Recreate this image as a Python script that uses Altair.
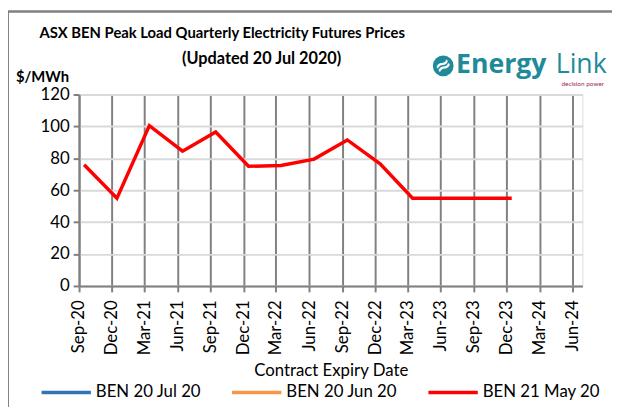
import altair as alt
import pandas as pd

# ---- data ----
contracts = ["Sep-20", "Dec-20", "Mar-21", "Jun-21", "Sep-21", "Dec-21", "Mar-22",
             "Jun-22", "Sep-22", "Dec-22", "Mar-23", "Jun-23", "Sep-23", "Dec-23"]
prices_21may = [76, 55, 100.5, 84.5, 96.5, 75, 75.5, 79.5, 91.5, 76.5, 55, 55, 55, 55]
tick_labels = ["Sep-20", "Dec-20", "Mar-21", "Jun-21", "Sep-21", "Dec-21", "Mar-22", "Jun-22",
               "Sep-22", "Dec-22", "Mar-23", "Jun-23", "Sep-23", "Dec-23", "Mar-24", "Jun-24"]
series_names = ["BEN 20 Jul 20", "BEN 20 Jun 20", "BEN 21 May 20"]
series_colors = ["#2e75b6", "#f79646", "#ff0000"]
y_ticks = [0, 20, 40, 60, 80, 100, 120]

FONT = "Lato"


def to_ms(label, day):
    ts = pd.to_datetime("01-" + label, format="%d-%b-%y") + pd.Timedelta(days=day - 1)
    return int(ts.tz_localize("UTC").timestamp() * 1000)


df = pd.DataFrame({
    "date": [to_ms(c, 15) for c in contracts],
    "price": prices_21may,
    "series": "BEN 21 May 20",
})
tick_vals = [to_ms(t, 1) for t in tick_labels]
x_domain = [to_ms("Sep-20", 1), to_ms("Jun-24", 28)]

W, H = 510, 194

x_enc = alt.X(
    "date:T",
    scale=alt.Scale(type="utc", domain=x_domain),
    axis=alt.Axis(
        values=tick_vals,
        labelExpr="utcFormat(datum.value, '%b-%y')",
        labelAngle=-90, labelAlign="right", labelBaseline="middle",
        labelFontSize=17, labelFont=FONT, labelColor="#000000", labelPadding=8,
        title="Contract Expiry Date", titleFontSize=17, titleFont=FONT,
        titleFontWeight="normal", titleColor="#000000", titlePadding=8,
        grid=True, gridColor="#808080", gridWidth=2,
        domainColor="#808080", domainWidth=2,
        tickColor="#808080", tickWidth=2, tickSize=6,
    ),
)
y_enc = alt.Y(
    "price:Q",
    scale=alt.Scale(domain=[0, 120], nice=False),
    axis=alt.Axis(
        values=y_ticks, title=None,
        labelFontSize=17, labelFont=FONT, labelColor="#000000", labelPadding=4,
        grid=True, gridColor="#d9d9d9", gridWidth=2,
        domainColor="#808080", domainWidth=2,
        tickColor="#808080", tickWidth=2, tickSize=6,
    ),
)

line = alt.Chart(df).mark_line(strokeWidth=3.5).encode(
    x=x_enc,
    y=y_enc,
    color=alt.Color(
        "series:N",
        scale=alt.Scale(domain=series_names, range=series_colors),
        legend=alt.Legend(
            title=None, orient="none", legendX=-40, legendY=275,
            direction="horizontal", symbolType="stroke", symbolSize=2500,
            symbolStrokeWidth=3.5, labelFontSize=17, labelFont=FONT,
            labelColor="#000000", columnPadding=24, labelOffset=3,
        ),
    ),
)

title1 = alt.Chart(pd.DataFrame({"t": ["ASX BEN Peak Load Quarterly Electricity Futures Prices"]})).mark_text(
    font=FONT, fontSize=15, fontWeight="bold", color="#000000", align="center", baseline="middle"
).encode(text="t:N", x=alt.value(145), y=alt.value(-62))

title2 = alt.Chart(pd.DataFrame({"t": ["(Updated 20 Jul 2020)"]})).mark_text(
    font=FONT, fontSize=16.5, fontWeight="bold", color="#000000", align="center", baseline="middle"
).encode(text="t:N", x=alt.value(185), y=alt.value(-36))

unit = alt.Chart(pd.DataFrame({"t": ["$/MWh"]})).mark_text(
    font=FONT, fontSize=15, fontWeight="bold", color="#000000", align="left", baseline="middle"
).encode(text="t:N", x=alt.value(-64), y=alt.value(-18))

logo_circle = alt.Chart(pd.DataFrame({"k": [1]})).mark_point(
    shape="circle", filled=True, size=440, color="#1f8a99", opacity=1
).encode(x=alt.value(369), y=alt.value(-29))

logo_wave = alt.Chart(pd.DataFrame({"t": ["≈"]})).mark_text(
    font="DejaVu Sans", fontSize=20, fontWeight="bold", color="#ffffff", align="center", baseline="middle",
    angle=330
).encode(text="t:N", x=alt.value(369), y=alt.value(-29))

logo_text1 = alt.Chart(pd.DataFrame({"t": ["Energy"]})).mark_text(
    font="Open Sans", fontSize=27, fontWeight="bold", color="#1f8a99", align="left", baseline="middle"
).encode(text="t:N", x=alt.value(382), y=alt.value(-30))

logo_text2 = alt.Chart(pd.DataFrame({"t": ["Link"]})).mark_text(
    font="Open Sans", fontSize=27, fontWeight="normal", color="#1f8a99", align="left", baseline="middle"
).encode(text="t:N", x=alt.value(483), y=alt.value(-30))

logo_tag = alt.Chart(pd.DataFrame({"t": ["decision power"]})).mark_text(
    font=FONT, fontSize=6.5, color="#9e2b4a", align="right", baseline="middle"
).encode(text="t:N", x=alt.value(532), y=alt.value(-11))

frame_top = alt.Chart(pd.DataFrame({"k": [1]})).mark_rule(color="#808080", strokeWidth=2.5).encode(
    x=alt.value(-72), x2=alt.value(540), y=alt.value(-84)
)
frame_left = alt.Chart(pd.DataFrame({"k": [1]})).mark_rule(color="#808080", strokeWidth=1).encode(
    x=alt.value(-71.5), y=alt.value(-84), y2=alt.value(320)
)

chart = alt.layer(
    line, title1, title2, unit, logo_circle, logo_wave, logo_text1, logo_text2, logo_tag,
    frame_top, frame_left,
).properties(
    width=W, height=H,
    autosize=alt.AutoSizeParams(type="none"),
    padding={"left": 72, "top": 85, "right": 30, "bottom": 120},
).configure_view(
    stroke="#808080", strokeWidth=2
).configure(
    font=FONT, background="#ffffff"
)

chart.save("out.html", embed_options={"renderer": "svg", "actions": False})
